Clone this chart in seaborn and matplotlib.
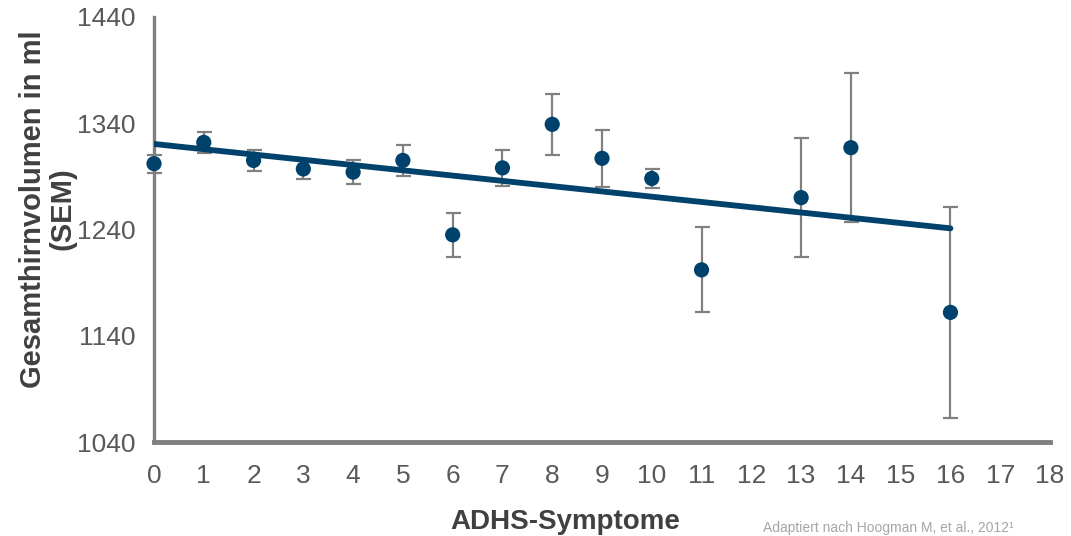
import matplotlib
matplotlib.use("Agg")
import matplotlib.pyplot as plt
import seaborn as sns
import numpy as np
import pandas as pd

# Data
symptoms = [0, 1, 2, 3, 4, 5, 6, 7, 8, 9, 10, 11, 13, 14, 16]
volume = [1302, 1322, 1305, 1297, 1294, 1305, 1235, 1298, 1339, 1307, 1288, 1202, 1270, 1317, 1162]
sem = [8.5, 10, 9.7, 9, 11.3, 14.6, 21, 16.7, 28.5, 27, 9.4, 40, 56, 70, 99.6]
trend_x = [0, 16]
trend_y = [1320.5, 1241.1]
x_ticks = list(range(0, 19))
y_ticks = [1040, 1140, 1240, 1340, 1440]

df = pd.DataFrame({"x": symptoms, "y": volume, "sem": sem})
trend = pd.DataFrame({"x": trend_x, "y": trend_y})

sns.set_theme(style="white")
plt.rcParams["font.family"] = ["Liberation Sans", "DejaVu Sans"]

BLUE = "#00426b"
GREY = "#808080"
TICKGREY = "#d9d9d9"
TEXT = "#595959"

fig = plt.figure(figsize=(10.71, 5.36), dpi=100)
ax = fig.add_axes([154 / 1071, 1 - 442 / 536, 896 / 1071, 425 / 536])

ax.errorbar(df["x"], df["y"], yerr=df["sem"], fmt="none", ecolor=GREY,
            elinewidth=1.6, capsize=5.4, capthick=1.6, zorder=2, clip_on=False)
sns.lineplot(data=trend, x="x", y="y", ax=ax, color=BLUE, linewidth=4.2, zorder=3)
sns.scatterplot(data=df, x="x", y="y", ax=ax, color=BLUE, s=120, edgecolor="none",
                zorder=4, clip_on=False)

ax.set_xlim(0, 18)
ax.set_ylim(1040, 1440)
ax.set_xticks(x_ticks)
ax.set_yticks(y_ticks)
ax.tick_params(axis="both", which="major", length=9, width=2.2, color=TICKGREY,
               labelsize=19, labelcolor=TEXT, direction="out")
ax.tick_params(axis="y", pad=4)
ax.tick_params(axis="x", pad=7)

for s in ["top", "right"]:
    ax.spines[s].set_visible(False)
ax.spines["left"].set_color(GREY)
ax.spines["left"].set_linewidth(2.4)
ax.spines["bottom"].set_color(GREY)
ax.spines["bottom"].set_linewidth(3.5)
ax.grid(False)

ax.set_ylabel("Gesamthirnvolumen in ml\n(SEM)", fontsize=21, fontweight="bold",
              color="#404040", linespacing=1.1)
ax.yaxis.set_label_coords(-0.086, 0.548)
ax.set_xlabel("ADHS-Symptome", fontsize=20, fontweight="bold", color="#404040")
ax.xaxis.set_label_coords(0.459, -0.158)
ax.xaxis.label.set_va("top")

fig.text(763 / 1071, 1 - 528 / 536, "Adaptiert nach Hoogman M, et al., 2012\u00b9",
         fontsize=10, color="#a6a6a6", ha="left", va="center")

fig.savefig("out.png", dpi=100)
